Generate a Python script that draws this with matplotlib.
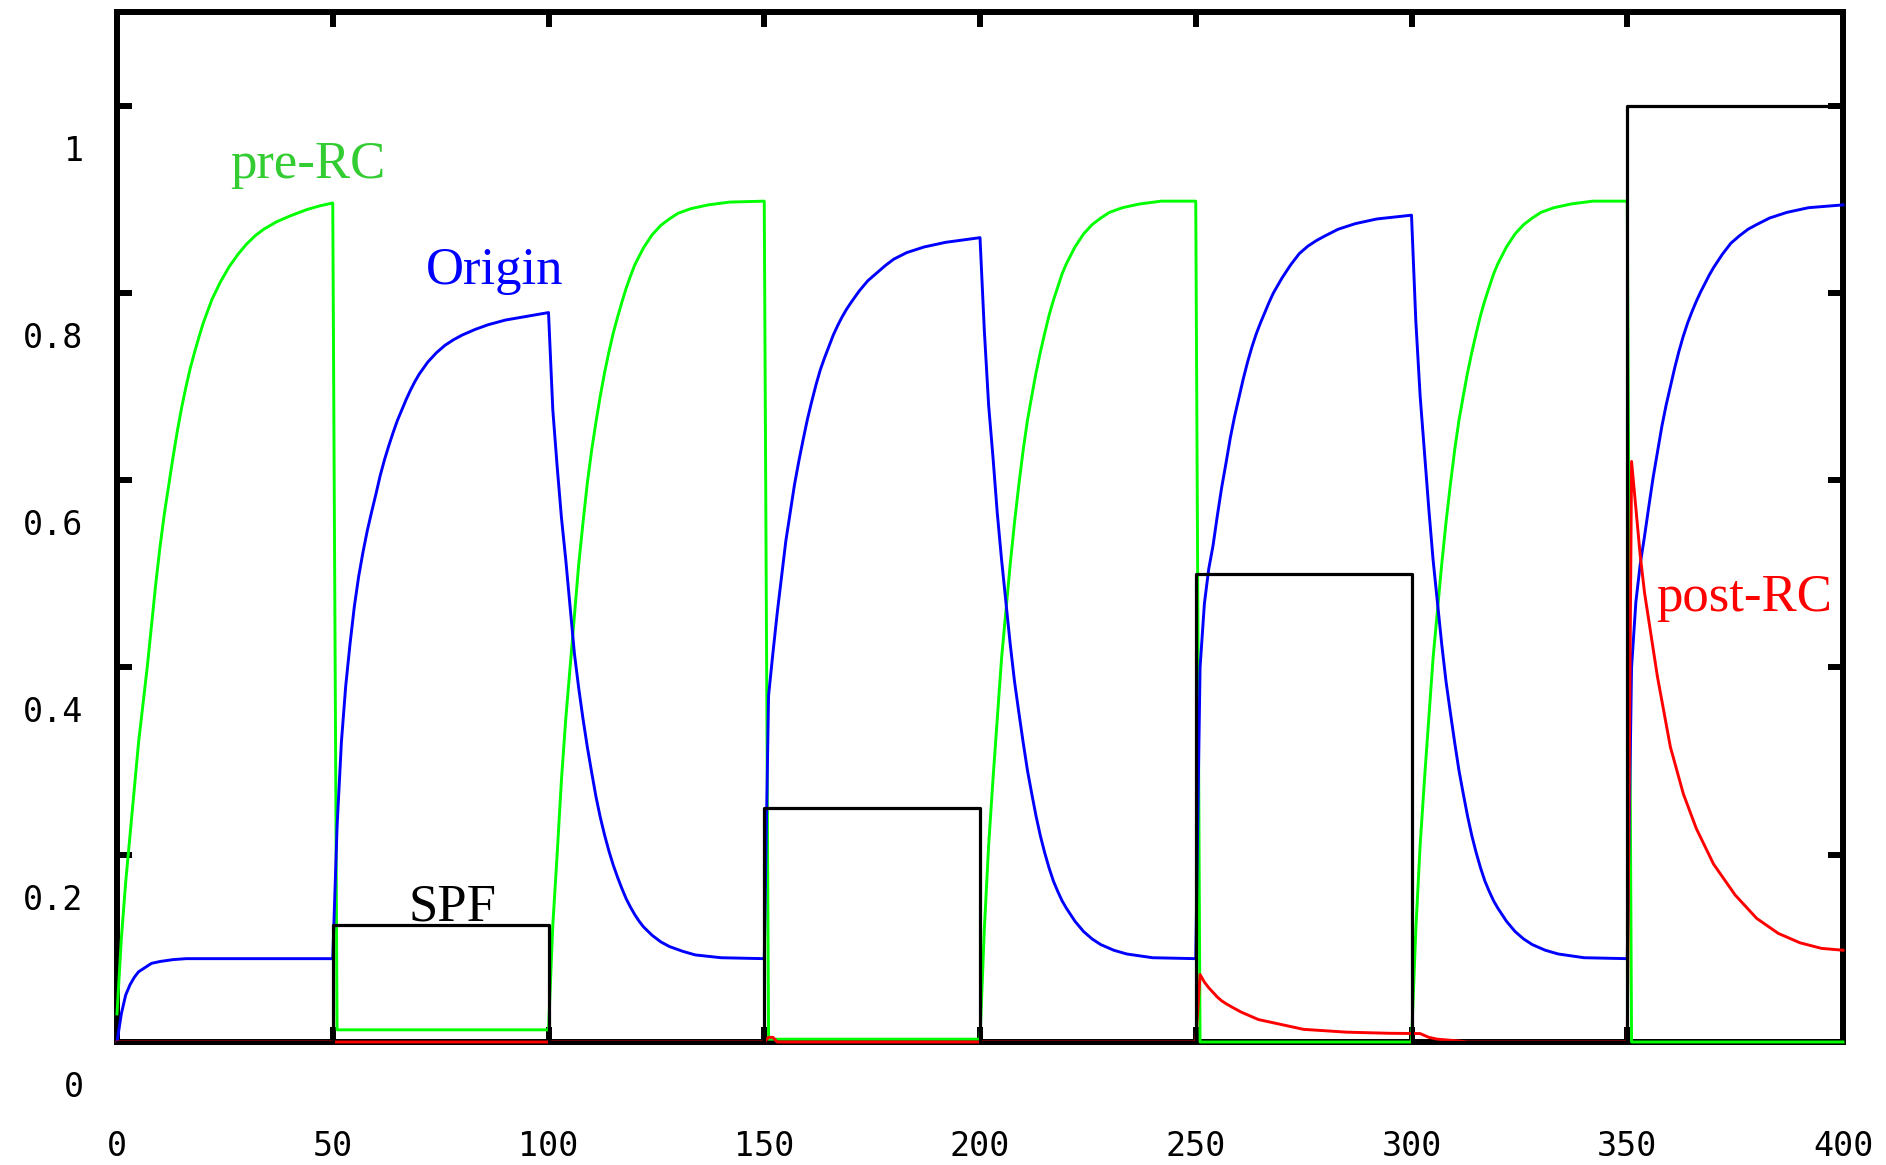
import matplotlib
matplotlib.use("Agg")
import matplotlib.pyplot as plt
from matplotlib.transforms import ScaledTranslation

# ---------------- data ----------------
spf_t = [0, 50, 50, 100, 100, 150, 150, 200, 200, 250, 250, 300, 300, 350, 350, 400]
spf_v = [0, 0, 0.125, 0.125, 0, 0, 0.25, 0.25, 0, 0, 0.5, 0.5, 0, 0, 1.0, 1.0]

pre_rc_t = [0, 1, 2, 3, 4, 5, 6, 7, 8, 9, 10, 11, 12, 13, 14, 15, 16, 17, 18, 19, 20,
            22, 24, 26, 28, 30, 32, 34, 37, 40, 44, 47, 50,
            51, 100,
            101, 102, 103, 104, 105, 106, 107, 108, 109, 110, 111, 112, 113, 114, 115,
            116, 117, 118, 119, 120, 122, 124, 126, 128, 130, 133, 137, 142, 150,
            151, 200,
            201, 202, 203, 204, 205, 206, 207, 208, 209, 210, 211, 212, 213, 214, 215,
            216, 217, 218, 219, 220, 222, 224, 226, 228, 230, 233, 237, 242, 250,
            251, 300,
            301, 302, 303, 304, 305, 306, 307, 308, 309, 310, 311, 312, 313, 314, 315,
            316, 317, 318, 319, 320, 322, 324, 326, 328, 330, 333, 337, 342, 350,
            351, 400]
pre_rc_v = [0.03, 0.11, 0.17, 0.22, 0.27, 0.32, 0.36, 0.40, 0.445, 0.49, 0.53, 0.565, 0.595,
            0.625, 0.653, 0.678, 0.70, 0.72, 0.737, 0.753, 0.768,
            0.793, 0.812, 0.828, 0.841, 0.852, 0.861, 0.868, 0.876, 0.882, 0.889, 0.893, 0.896,
            0.013, 0.013,
            0.125, 0.2, 0.28, 0.345, 0.40, 0.455, 0.51, 0.555, 0.597, 0.632, 0.662, 0.69, 0.715,
            0.737, 0.757, 0.774, 0.79, 0.805, 0.818, 0.83, 0.848, 0.862, 0.872, 0.879, 0.885,
            0.89, 0.894, 0.897, 0.898,
            0.003, 0.003,
            0.12, 0.21, 0.28, 0.345, 0.41, 0.46, 0.51, 0.555, 0.595, 0.632, 0.664, 0.69, 0.715,
            0.737, 0.757, 0.776, 0.792, 0.806, 0.82, 0.831, 0.849, 0.863, 0.873, 0.88, 0.886,
            0.891, 0.895, 0.898, 0.898,
            0.0, 0.0,
            0.12, 0.21, 0.28, 0.345, 0.41, 0.46, 0.51, 0.555, 0.595, 0.632, 0.664, 0.69, 0.715,
            0.737, 0.757, 0.776, 0.792, 0.806, 0.82, 0.831, 0.849, 0.863, 0.873, 0.88, 0.886,
            0.891, 0.895, 0.898, 0.898,
            0.0, 0.0]

origin_t = [0, 1, 2, 3, 4, 5, 6, 7, 8, 10, 13, 16, 50,
            51, 52, 53, 54, 55, 56, 57, 58, 59, 60, 61, 62, 63, 64, 65, 66, 67, 68, 69, 70,
            72, 74, 76, 78, 80, 83, 86, 90, 95, 100,
            101, 102, 103, 104, 105, 106, 107, 108, 109, 110, 111, 112, 113, 114, 115, 116,
            117, 118, 119, 120, 121, 122, 124, 126, 128, 131, 134, 140, 150,
            151, 152, 153, 154, 155, 156, 157, 158, 159, 160, 161, 162, 163, 164, 165, 166,
            167, 168, 169, 170, 172, 174, 176, 178, 180, 183, 187, 192, 200,
            201, 202, 203, 204, 205, 206, 207, 208, 209, 210, 211, 212, 213, 214, 215, 216,
            217, 218, 219, 220, 221, 222, 224, 226, 228, 231, 234, 240, 250,
            251, 252, 253, 254, 255, 256, 257, 258, 259, 260, 261, 262, 263, 264, 265, 266,
            267, 268, 269, 270, 272, 274, 276, 278, 280, 283, 287, 292, 300,
            301, 302, 303, 304, 305, 306, 307, 308, 309, 310, 311, 312, 313, 314, 315, 316,
            317, 318, 319, 320, 321, 322, 324, 326, 328, 331, 334, 340, 350,
            351, 352, 353, 354, 355, 356, 357, 358, 359, 360, 361, 362, 363, 364, 365, 366,
            367, 368, 369, 370, 372, 374, 376, 378, 380, 383, 387, 392, 400]
origin_v = [0, 0.03, 0.05, 0.061, 0.069, 0.075, 0.078, 0.081, 0.084, 0.086, 0.088, 0.089, 0.089,
            0.23, 0.32, 0.38, 0.425, 0.465, 0.497, 0.523, 0.546, 0.566, 0.585, 0.605, 0.622, 0.637,
            0.651, 0.664, 0.675, 0.686, 0.696, 0.705, 0.713,
            0.726, 0.736, 0.744, 0.75, 0.755, 0.761, 0.766, 0.771, 0.775, 0.779,
            0.675, 0.615, 0.56, 0.515, 0.465, 0.415, 0.378, 0.345, 0.315, 0.288, 0.262, 0.24,
            0.221, 0.204, 0.189, 0.176, 0.164, 0.153, 0.144, 0.136, 0.129, 0.123, 0.114,
            0.107, 0.102, 0.097, 0.093, 0.09, 0.089,
            0.37, 0.415, 0.458, 0.497, 0.535, 0.565, 0.595, 0.62, 0.643, 0.665, 0.684, 0.702,
            0.718, 0.731, 0.743, 0.755, 0.765, 0.774, 0.782, 0.789, 0.802, 0.813, 0.821, 0.829,
            0.836, 0.843, 0.849, 0.854, 0.859,
            0.76, 0.68, 0.625, 0.565, 0.515, 0.47, 0.425, 0.385, 0.352, 0.32, 0.29, 0.265,
            0.241, 0.22, 0.202, 0.186, 0.172, 0.161, 0.151, 0.143, 0.136, 0.129, 0.118, 0.11,
            0.104, 0.098, 0.094, 0.09, 0.089,
            0.40, 0.468, 0.505, 0.53, 0.562, 0.592, 0.618, 0.645, 0.668, 0.688, 0.708, 0.726,
            0.742, 0.756, 0.768, 0.779, 0.79, 0.8, 0.808, 0.816, 0.83, 0.842, 0.85, 0.856,
            0.861, 0.868, 0.874, 0.879, 0.883,
            0.77, 0.69, 0.63, 0.57, 0.515, 0.47, 0.425, 0.385, 0.352, 0.32, 0.29, 0.265,
            0.241, 0.22, 0.202, 0.186, 0.172, 0.161, 0.151, 0.143, 0.136, 0.129, 0.118, 0.11,
            0.104, 0.098, 0.094, 0.09, 0.089,
            0.40, 0.47, 0.51, 0.54, 0.572, 0.603, 0.63, 0.657, 0.68, 0.70, 0.72, 0.738,
            0.754, 0.768, 0.78, 0.791, 0.801, 0.81, 0.819, 0.827, 0.841, 0.853, 0.861, 0.868,
            0.873, 0.88, 0.886, 0.891, 0.894]

post_rc_t = [0, 150, 151, 152, 153, 250, 251, 252, 253, 254, 255, 256, 257, 258.5, 260.5,
             262, 264.5, 267.5, 272, 275, 285, 295, 302, 304, 306, 310, 313, 350,
             351, 352, 353, 354, 355, 357, 360, 363, 366, 370, 375, 380, 385, 390, 395, 400]
post_rc_v = [0, 0, 0.005, 0.005, 0, 0, 0.072, 0.064, 0.058, 0.053, 0.048, 0.044, 0.041, 0.037,
             0.032, 0.029, 0.024, 0.021, 0.0165, 0.0135, 0.0105, 0.0093, 0.009, 0.005, 0.003,
             0.0015, 0, 0,
             0.62, 0.57, 0.52, 0.48, 0.45, 0.39, 0.315, 0.265, 0.228, 0.19, 0.157, 0.132, 0.116,
             0.106, 0.1, 0.098]

x_ticks = [0, 50, 100, 150, 200, 250, 300, 350, 400]
x_tick_labels = ["0", "50", "100", "150", "200", "250", "300", "350", "400"]
y_ticks = [0, 0.2, 0.4, 0.6, 0.8, 1.0]
y_tick_labels = ["0", "0.2", "0.4", "0.6", "0.8", "1"]

# ---------------- figure ----------------
W, H, DPI = 1886, 1165, 100
fig = plt.figure(figsize=(W / DPI, H / DPI), dpi=DPI, facecolor="white")
ax = fig.add_axes([117 / W, (H - 1042) / H, (1843 - 117) / W, (1042 - 12) / H])

lw = 2.1
ax.plot(pre_rc_t, pre_rc_v, color="#00ff00", lw=lw, clip_on=False, zorder=3)
ax.plot(origin_t, origin_v, color="#0000ff", lw=lw, clip_on=False, zorder=3.1)
ax.plot(post_rc_t, post_rc_v, color="#ff0000", lw=lw, clip_on=False, zorder=3.2)
ax.plot(spf_t, spf_v, color="black", lw=2.3, clip_on=False, zorder=3.3)

ax.set_xlim(0, 400)
ax.set_ylim(0, 1.1)

for s in ax.spines.values():
    s.set_linewidth(4.3)
    s.set_color("black")
    s.set_zorder(2.5)

tickfont = {"family": "DejaVu Sans Mono", "size": 24}
ax.set_xticks(x_ticks)
ax.set_xticklabels(x_tick_labels, fontdict=tickfont)
ax.set_yticks(y_ticks)
ax.set_yticklabels(y_tick_labels, fontdict=tickfont)
ax.tick_params(axis="both", which="major", direction="in", length=10.8, width=4.3,
               top=True, right=True, color="black")
ax.tick_params(axis="x", pad=63)
ax.tick_params(axis="y", pad=24)
shift = ScaledTranslation(0, -42 / DPI, fig.dpi_scale_trans)
for lab in ax.get_yticklabels():
    lab.set_transform(lab.get_transform() + shift)

lab_font = dict(family="Liberation Serif", size=38)
ax.text(26.2, 0.923, "pre-RC", color="#33cc33", ha="left", va="baseline", **lab_font)
ax.text(71.6, 0.809, "Origin", color="#0000ff", ha="left", va="baseline", **lab_font)
ax.text(67.6, 0.130, "SPF", color="black", ha="left", va="baseline", **lab_font)
ax.text(356.7, 0.46, "post-RC", color="#ff0000", ha="left", va="baseline", **lab_font)

fig.savefig("out.png", dpi=DPI, facecolor="white")
